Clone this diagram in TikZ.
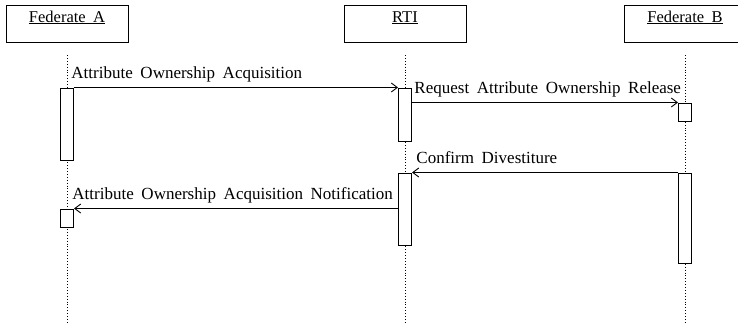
\documentclass[tikz,border=0pt]{standalone}
\usepackage{fontspec}
\setmainfont{Liberation Serif}[WordSpace=1.8]
\usetikzlibrary{arrows.meta, positioning, calc}

\begin{document}
\begin{tikzpicture}[
  x=1pt, y=-1pt,
  >={Straight Barb[length=6pt, width=9pt]},
  head/.style = {draw, line width=1pt, minimum width=122pt,
                 inner ysep=0pt, text height=17pt, text depth=20pt,
                 font=\fontsize{16.5}{18}\selectfont},
  bar/.style  = {draw, fill=white, line width=1pt, minimum width=13pt,
                 inner sep=0pt},
  life/.style = {dotted, line width=0.9pt},
  msg/.style  = {->, line width=0.9pt},
  lab/.style  = {anchor=south west, inner sep=0pt, text depth=0pt,
                 yshift=9pt, font=\fontsize{17}{19}\selectfont}
]
\useasboundingbox (0,0) rectangle (738,324);

% object heads
\node[head] (fedA) at (67,23.5)  {\underline{Federate A}};
\node[head] (rti)  at (405,23.5) {\underline{RTI}};
\node[head] (fedB) at (685,23.5) {\underline{Federate B}};

% lifelines
\coordinate (topA) at (67,55);  \coordinate (endA) at (67,324);
\coordinate (topR) at (405,55); \coordinate (endR) at (405,324);
\coordinate (topB) at (685,55); \coordinate (endB) at (685,324);
\draw[life] (topA) -- (endA);
\draw[life] (topR) -- (endR);
\draw[life] (topB) -- (endB);

% activations
\node[bar, minimum height=72pt] (actA1) at (67,124)    {};
\node[bar, minimum height=18pt] (actA2) at (67,218)    {};
\node[bar, minimum height=53pt] (actR1) at (405,114.5) {};
\node[bar, minimum height=72pt] (actR2) at (405,209)   {};
\node[bar, minimum height=18pt] (actB1) at (685,112)   {};
\node[bar, minimum height=90pt] (actB2) at (685,218)   {};

% messages
\draw[msg] (actA1.north east) -- (actR1.north west)
  node[lab, pos=0, xshift=-3pt] {Attribute Ownership Acquisition};
\draw[msg] (actR1.east |- actB1.north) -- (actB1.north west)
  node[lab, pos=0, xshift=2pt] {Request Attribute Ownership Release};
\draw[msg] (actB2.north west) -- (actR2.north east)
  node[lab, pos=1, xshift=4pt] {Confirm Divestiture};
\draw[msg] (actR2.west |- actA2.north) -- (actA2.north east)
  node[lab, pos=1, xshift=-2pt] {Attribute Ownership Acquisition Notification};
\end{tikzpicture}
\end{document}
